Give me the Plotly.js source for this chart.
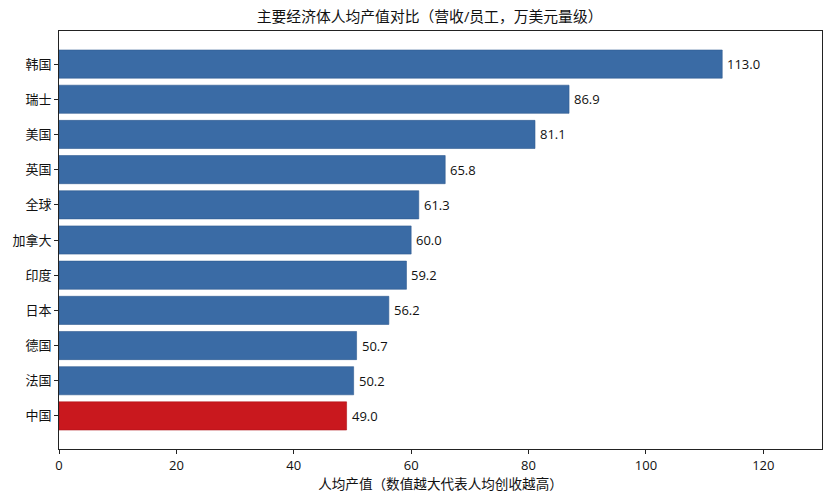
<!DOCTYPE html>
<html>
<head>
<meta charset="utf-8">
<script src="https://cdn.plot.ly/plotly-3.0.1.min.js"></script>
<style>
  html, body { margin: 0; padding: 0; background: #fff; }
  #chart { width: 831px; height: 500px; }
</style>
</head>
<body>
<div id="chart"></div>
<script>
// countries, top to bottom as drawn
var countries = ['韩国', '瑞士', '美国', '英国', '全球', '加拿大', '印度', '日本', '德国', '法国', '中国'];
var values = [113.0, 86.9, 81.1, 65.8, 61.3, 60.0, 59.2, 56.2, 50.7, 50.2, 49.0];
var xTicks = [0, 20, 40, 60, 80, 100, 120];

var FONT = '"Open Sans", "Noto Sans CJK SC", sans-serif';

var barColors = countries.map(function (c) {
    return c === '中国' ? '#c9181e' : '#3a6ba5';
});
var lineColors = countries.map(function (c) {
    return c === '中国' ? '#b01218' : '#2f5b90';
});

var trace = {
    type: 'bar',
    orientation: 'h',
    x: values,
    y: countries,
    width: 0.8,
    marker: { color: barColors, line: { color: lineColors, width: 0.6 } },
    hoverinfo: 'none'
};

// value labels right of each bar
var labels = countries.map(function (c, i) {
    return {
        x: values[i], y: c, xref: 'x', yref: 'y',
        text: values[i].toFixed(1),
        showarrow: false, xanchor: 'left', yanchor: 'middle', xshift: 3,
        font: { family: FONT, size: 13, color: '#111' }
    };
});

var layout = {
    width: 831,
    height: 500,
    margin: { l: 59, r: 9, t: 31, b: 51 },
    paper_bgcolor: '#fff',
    plot_bgcolor: '#fff',
    showlegend: false,
    font: { family: FONT, color: '#111' },
    annotations: labels,
    title: {
        text: '主要经济体人均产值对比（营收/员工，万美元量级）',
        font: { family: FONT, size: 14.8, color: '#111' },
        x: 0.517, xanchor: 'center',
        y: 0.966, yanchor: 'middle'
    },
    xaxis: {
        range: [0, 130],
        tickvals: xTicks,
        ticktext: xTicks.map(String),
        ticks: 'outside', ticklen: 4, tickwidth: 1, tickcolor: '#222',
        showgrid: false, zeroline: false,
        showline: true, linecolor: '#222', linewidth: 1, mirror: true,
        tickfont: { family: FONT, size: 13, color: '#111' },
        title: {
            text: '人均产值（数值越大代表人均创收越高）',
            font: { family: FONT, size: 13.6, color: '#111' },
            standoff: 3
        }
    },
    yaxis: {
        type: 'category',
        categoryorder: 'array',
        categoryarray: countries,
        range: [10.94, -0.94],
        ticks: 'outside', ticklen: 4, tickwidth: 1, tickcolor: '#222',
        showgrid: false, zeroline: false,
        showline: true, linecolor: '#222', linewidth: 1, mirror: true,
        tickfont: { family: FONT, size: 13, color: '#111' }
    }
};

Plotly.newPlot('chart', [trace], layout, { staticPlot: true, displayModeBar: false });
</script>
</body>
</html>
